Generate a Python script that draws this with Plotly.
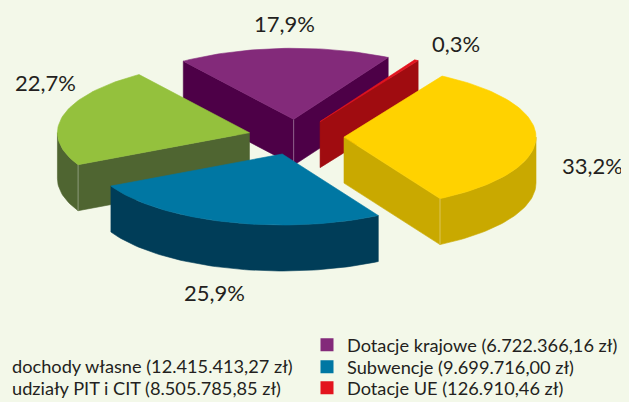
import numpy as np
import plotly.graph_objects as go

# ---- data ----
CATEGORIES = ["dochody własne", "Dotacje UE", "Dotacje krajowe", "udziały PIT i CIT", "Subwencje"]
VALUES = [12415413.27, 126910.46, 6722366.16, 8505785.85, 9699716.00]
VALUE_LABELS = ["12.415.413,27 zł", "126.910,46 zł", "6.722.366,16 zł", "8.505.785,85 zł", "9.699.716,00 zł"]
PCT_LABELS = ["33,2%", "0,3%", "17,9%", "22,7%", "25,9%"]

# ---- style ----
TOP_COLORS = ["#FFD200", "#E3141E", "#832A7A", "#94C13D", "#0077A3"]
SIDE_COLORS = ["#C9A900", "#A00C10", "#4D0047", "#4F6531", "#003D58"]
LEGEND_COLORS = ["#FFD200", "#E3141E", "#832A7A", "#94C13D", "#0077A3"]
EDGE_COLOR = "rgba(255,255,255,0.35)"
BG = "#F3F8E9"
TXT = "#231F20"
FONT = "Lato"

OFF = 8                       # page body margin
W, H_FIG = 629 - OFF, 402 - OFF
CX, CY = 296, 137      # pie centre (window px)
RX, RY = 192, 71       # projected radii (px)
DEPTH = 46             # thickness (px)
EXPLODE = 48           # explosion distance (px, horizontal units)
START = -60.0          # start angle (deg), counter-clockwise
LABEL_POS = [(592, 165), (456, 43), (284, 23), (45, 82), (214, 292)]
# legend item anchor (legend-box left x, item centre y) in window px
LEGEND_POS = [(-28, 366), (307, 388), (307, 345), (-28, 388), (307, 367)]

vals = np.array(VALUES, dtype=float)
frac = vals / vals.sum()
ends = START + np.cumsum(frac) * 360.0
starts = ends - frac * 360.0
KY = RY / RX


def pt(ox, oy, r, th, z):
    t = np.radians(th)
    return CX + ox + r * RX * np.cos(t), CY + oy - r * RY * np.sin(t) + z


def arc(ox, oy, a, b, z, n=None):
    if n is None:
        n = max(2, int(abs(b - a) / 1.5) + 2)
    th = np.linspace(a, b, n)
    xs, ys = pt(ox, oy, 1.0, th, z)
    return list(xs), list(ys)


fig = go.Figure()


def face(xs, ys, color):
    fig.add_trace(go.Scatter(
        x=xs + [xs[0]], y=ys + [ys[0]], mode="lines", fill="toself",
        fillcolor=color, line=dict(color=color, width=0.6),
        hoverinfo="skip", showlegend=False))


def edge_line(ox, oy, r, th):
    x0, y0 = pt(ox, oy, r, th, 0)
    x1, y1 = pt(ox, oy, r, th, DEPTH)
    fig.add_trace(go.Scatter(x=[x0, x1], y=[y0, y1], mode="lines",
                             line=dict(color=EDGE_COLOR, width=1),
                             hoverinfo="skip", showlegend=False))


order = sorted(range(len(VALUES)),
               key=lambda i: -np.sin(np.radians((starts[i] + ends[i]) / 2)))

for i in order:
    a, b = starts[i], ends[i]
    mid = np.radians((a + b) / 2)
    ox = EXPLODE * np.cos(mid)
    oy = -EXPLODE * KY * np.sin(mid)
    side = SIDE_COLORS[i]
    arcs = []
    # outer curved side, front half only
    for lo, hi in [(-180, 0), (180, 360)]:
        s, e = max(a, lo), min(b, hi)
        if e > s:
            xt, yt = arc(ox, oy, s, e, 0)
            xb, yb = arc(ox, oy, s, e, DEPTH)
            face(xt + xb[::-1], yt + yb[::-1], side)
            arcs.append((s, e))
    # radial walls
    walls = []
    for edge, visible in [(a, np.cos(np.radians(a)) > 0), (b, np.cos(np.radians(b)) < 0)]:
        if visible:
            x0, y0 = pt(ox, oy, 0, edge, 0)
            x1, y1 = pt(ox, oy, 1.0, edge, 0)
            x2, y2 = pt(ox, oy, 1.0, edge, DEPTH)
            x3, y3 = pt(ox, oy, 0, edge, DEPTH)
            face([x0, x1, x2, x3], [y0, y1, y2, y3], side)
            walls.append(edge)
    # highlight vertical edges between visible side faces
    for edge in walls:
        if any(abs(edge - s) < 1e-6 or abs(edge - e) < 1e-6 for s, e in arcs):
            edge_line(ox, oy, 1.0, edge)
    if len(walls) == 2:
        edge_line(ox, oy, 0, a)
    # top
    x0, y0 = pt(ox, oy, 0, a, 0)
    xt, yt = arc(ox, oy, a, b, 0)
    face([x0] + xt, [y0] + yt, TOP_COLORS[i])

# legend entries: one legend per item for exact placement
legend_layout = {}
for k, i in enumerate(range(len(CATEGORIES))):
    lname = "legend" if k == 0 else f"legend{k + 1}"
    fig.add_trace(go.Scatter(
        x=[None], y=[None], mode="markers",
        marker=dict(symbol="square", size=13, color=LEGEND_COLORS[i]),
        name=f"{CATEGORIES[i]} ({VALUE_LABELS[i]})",
        legend=lname, showlegend=True))
    lx, ly = LEGEND_POS[i]
    legend_layout[lname] = dict(
        x=(lx - OFF) / W, y=1 - (ly - OFF) / H_FIG,
        xanchor="left", yanchor="middle",
        bgcolor="rgba(0,0,0,0)", borderwidth=0,
        font=dict(family=FONT, size=18.2, color=TXT))

for i, (lx, ly) in enumerate(LABEL_POS):
    fig.add_annotation(x=lx, y=ly, text=PCT_LABELS[i], showarrow=False,
                       font=dict(family=FONT, size=22, color=TXT),
                       xanchor="center", yanchor="middle")

fig.update_layout(
    width=W, height=H_FIG,
    margin=dict(l=0, r=0, t=0, b=0, autoexpand=False),
    paper_bgcolor=BG, plot_bgcolor=BG,
    xaxis=dict(range=[OFF, OFF + W], visible=False, fixedrange=True),
    yaxis=dict(range=[OFF + H_FIG, OFF], visible=False, fixedrange=True),
    showlegend=True,
    **legend_layout,
)

fig.write_html("out.html",
               post_script=f"document.body.style.backgroundColor='{BG}';")
